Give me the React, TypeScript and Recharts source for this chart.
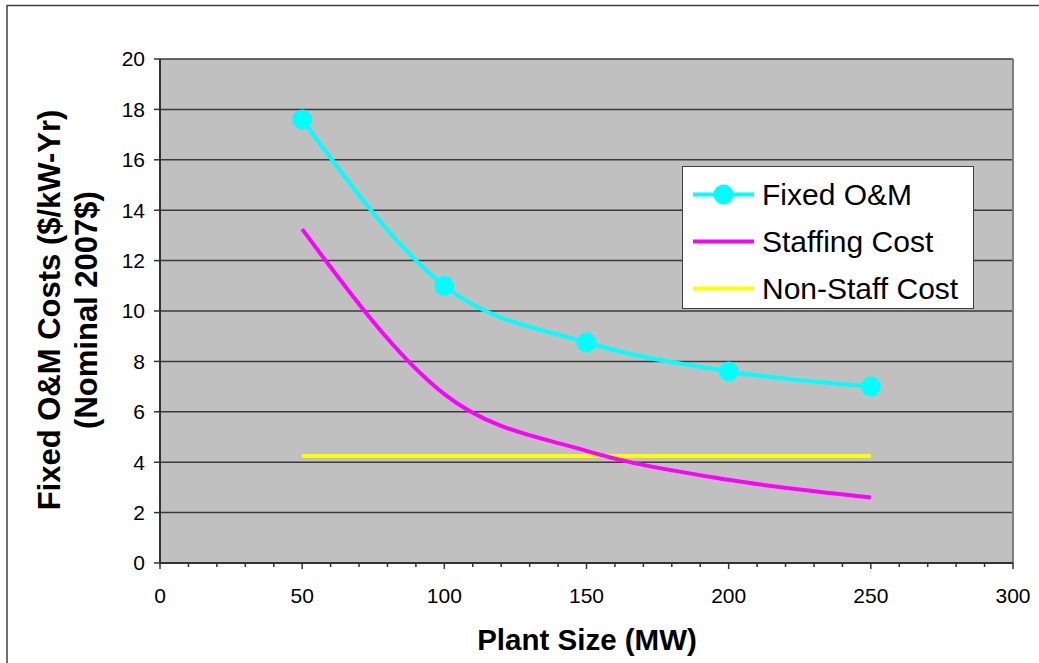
import React from 'react';
import { ComposedChart, Line, XAxis, YAxis, CartesianGrid, ReferenceLine } from 'recharts';

const plantSizes = [50, 100, 150, 200, 250];
const fixedOM = [17.6, 11.0, 8.75, 7.6, 7.0];
const staffingCost = [13.25, 6.7, 4.45, 3.3, 2.6];
const nonStaffCost = [4.25, 4.25, 4.25, 4.25, 4.25];

const xTicks = [0, 10, 20, 30, 40, 50, 60, 70, 80, 90, 100, 110, 120, 130, 140, 150, 160, 170, 180, 190, 200, 210, 220, 230, 240, 250, 260, 270, 280, 290, 300];
const xLabelTicks = [0, 50, 100, 150, 200, 250, 300];
const yTicks = [0, 2, 4, 6, 8, 10, 12, 14, 16, 18, 20];

const seriesNames = ['Fixed O&M', 'Staffing Cost', 'Non-Staff Cost'];
const seriesColors = ['#00FFFF', '#FF00FF', '#FFFF00'];

const data = plantSizes.map((x, i) => ({
  x,
  fixed: fixedOM[i],
  staffing: staffingCost[i],
  nonstaff: nonStaffCost[i],
}));

const FONT = '"Liberation Sans", Arial, sans-serif';

const XTick = (props: any) => {
  const { x, y, payload } = props;
  const major = xLabelTicks.includes(payload.value);
  return (
    <g>
      <line x1={x} x2={x} y1={y} y2={y + (major ? 6 : 4)} stroke="#333" strokeWidth={1.5} />
      {major && (
        <text x={x} y={y + 40} textAnchor="middle" fontSize={21} fill="#000" fontFamily={FONT}>
          {payload.value}
        </text>
      )}
    </g>
  );
};

export default function App() {
  return (
    <div style={{ position: 'absolute', left: 0, top: 0, width: 1039, height: 663, overflow: 'hidden', background: '#fff', fontFamily: FONT }}>
      <ComposedChart
        width={1039}
        height={663}
        data={data}
        margin={{ top: 59, right: 26, bottom: 20, left: 100 }}
      >
        <CartesianGrid
          horizontal
          vertical={false}
          fill="#C0C0C0"
          stroke="#3a3a3a"
          strokeWidth={1.5}
          fillOpacity={1}
        />
        <XAxis
          dataKey="x"
          type="number"
          domain={[0, 300]}
          ticks={xTicks}
          interval={0}
          tick={<XTick />}
          tickLine={false}
          tickSize={0}
          tickMargin={0}
          height={80}
          axisLine={{ stroke: '#333', strokeWidth: 2 }}
        />
        <YAxis
          type="number"
          domain={[0, 20]}
          ticks={yTicks}
          interval={0}
          width={60}
          tickSize={6}
          tickMargin={9}
          tick={{ fontSize: 21, fill: '#000', fontFamily: FONT }}
          tickLine={{ stroke: '#333', strokeWidth: 1.5 }}
          axisLine={{ stroke: '#333', strokeWidth: 2 }}
        />
        <ReferenceLine x={300} stroke="#808080" strokeWidth={2} />
        <Line
          dataKey="nonstaff"
          type="monotone"
          stroke={seriesColors[2]}
          strokeWidth={4}
          dot={false}
          isAnimationActive={false}
        />
        <Line
          dataKey="staffing"
          type="monotone"
          stroke={seriesColors[1]}
          strokeWidth={4}
          dot={false}
          isAnimationActive={false}
        />
        <Line
          dataKey="fixed"
          type="monotone"
          stroke={seriesColors[0]}
          strokeWidth={4}
          dot={{ r: 10, fill: seriesColors[0], stroke: 'none' }}
          isAnimationActive={false}
        />
      </ComposedChart>

      <svg width={1039} height={663} style={{ position: 'absolute', left: 0, top: 0, pointerEvents: 'none' }}>
        <path d="M7,663 V5.5 H1039" fill="none" stroke="#404040" strokeWidth={1.5} />
        <text transform="rotate(-90)" x={-310} y={60} textAnchor="middle" fontSize={31} fontWeight="bold" fill="#000" fontFamily={FONT}>
          Fixed O&amp;M Costs ($/kW-Yr)
        </text>
        <text transform="rotate(-90)" x={-310} y={97} textAnchor="middle" fontSize={31} fontWeight="bold" fill="#000" fontFamily={FONT}>
          (Nominal 2007$)
        </text>
        <text x={587} y={650} textAnchor="middle" fontSize={29.5} fontWeight="bold" fill="#000" fontFamily={FONT}>
          Plant Size (MW)
        </text>
      </svg>

      <div
        style={{
          position: 'absolute',
          left: 682,
          top: 166,
          width: 292,
          height: 143,
          boxSizing: 'border-box',
          background: '#fff',
          border: '1.5px solid #404040',
        }}
      >
        {seriesNames.map((name, i) => (
          <div key={name} style={{ position: 'absolute', left: 0, top: 4 + i * 47, height: 47, width: 290 }}>
            <svg width={70} height={47} style={{ position: 'absolute', left: 10, top: 0 }}>
              <line x1={0} x2={61} y1={23.5} y2={23.5} stroke={seriesColors[i]} strokeWidth={4} />
              {i === 0 && <circle cx={30.5} cy={23.5} r={10} fill={seriesColors[0]} />}
            </svg>
            <div
              style={{
                position: 'absolute',
                left: 79,
                top: 0,
                height: 47,
                lineHeight: '47px',
                fontSize: 30,
                color: '#000',
                fontFamily: FONT,
                whiteSpace: 'nowrap',
              }}
            >
              {name}
            </div>
          </div>
        ))}
      </div>
    </div>
  );
}
